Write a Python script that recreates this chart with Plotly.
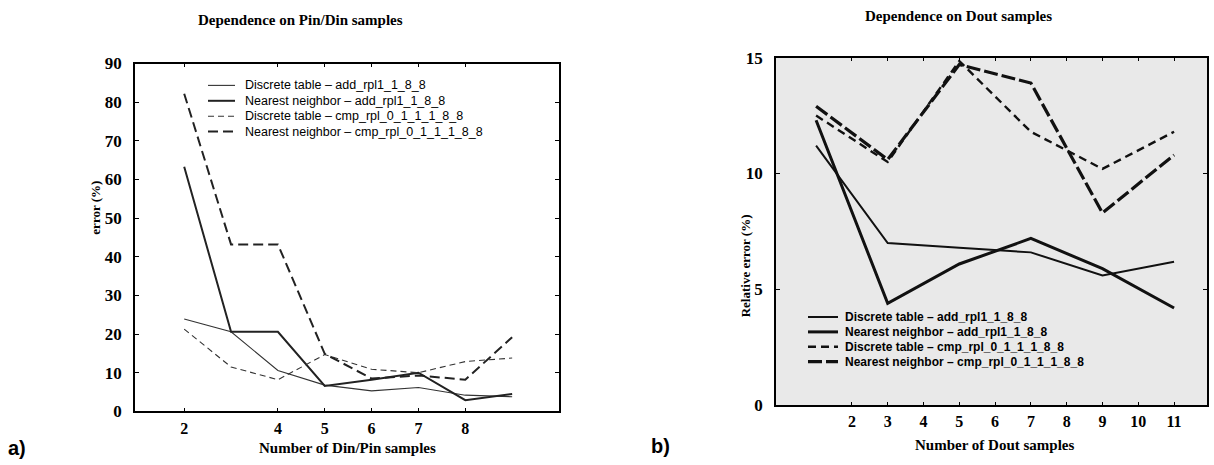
import plotly.graph_objects as go

# ---------------- data ----------------
# Panel a) Dependence on Pin/Din samples
din_x = [2, 3, 4, 5, 6, 7, 8, 9]
din_dt_add = [23.9, 20.6, 10.6, 6.8, 5.3, 6.2, 4.2, 3.8]
din_nn_add = [63.3, 20.6, 20.6, 6.6, 8.2, 10.0, 2.9, 4.5]
din_dt_cmp = [21.3, 11.5, 8.2, 14.7, 10.9, 10.0, 12.9, 13.8]
din_nn_cmp = [82.2, 43.2, 43.2, 14.9, 8.5, 9.3, 8.2, 19.2]
din_tickvals = [2, 4, 5, 6, 7, 8]
din_yticks = [0, 10, 20, 30, 40, 50, 60, 70, 80, 90]

# Panel b) Dependence on Dout samples
dout_x = [1, 3, 5, 7, 9, 11]
dout_dt_add = [11.2, 7.0, 6.8, 6.6, 5.6, 6.2]
dout_nn_add = [12.3, 4.4, 6.1, 7.2, 5.9, 4.2]
dout_dt_cmp = [12.5, 10.5, 14.85, 11.8, 10.2, 11.8]
dout_nn_cmp = [12.9, 10.6, 14.7, 13.9, 8.3, 10.8]
dout_tickvals = [2, 3, 4, 5, 6, 7, 8, 9, 10, 11]
dout_yticks = [0, 5, 10, 15]

names = [
    "Discrete table – add_rpl1_1_8_8",
    "Nearest neighbor – add_rpl1_1_8_8",
    "Discrete table – cmp_rpl_0_1_1_1_8_8",
    "Nearest neighbor – cmp_rpl_0_1_1_1_8_8",
]

W, H = 1214, 465
serif = "Liberation Serif"
sans = "Liberation Sans"

# vertical layout helper (page is shown slightly squeezed vertically)
def Y(y):
    return 232.5 + (y - 232.5) / 0.965

def py(y):
    return (H - Y(y)) / H

fig = go.Figure()

left_styles = [
    dict(color="#333333", width=1.1, dash="solid"),
    dict(color="#222222", width=2.0, dash="solid"),
    dict(color="#333333", width=1.1, dash="6px,4px"),
    dict(color="#222222", width=2.0, dash="10px,5px"),
]
for nm, ys, st in zip(names, [din_dt_add, din_nn_add, din_dt_cmp, din_nn_cmp], left_styles):
    fig.add_trace(go.Scatter(x=din_x, y=ys, mode="lines", name=nm, line=st,
                             xaxis="x", yaxis="y", showlegend=False))

right_styles = [
    dict(color="#111111", width=2.0, dash="solid"),
    dict(color="#111111", width=3.0, dash="solid"),
    dict(color="#111111", width=2.4, dash="8px,5px"),
    dict(color="#111111", width=3.2, dash="14px,4px"),
]
for nm, ys, st in zip(names, [dout_dt_add, dout_nn_add, dout_dt_cmp, dout_nn_cmp], right_styles):
    fig.add_trace(go.Scatter(x=dout_x, y=ys, mode="lines", name=nm, line=st,
                             xaxis="x2", yaxis="y2", showlegend=False))

def axis_style(size):
    return dict(showline=True, linecolor="black", linewidth=1.5, mirror="ticks",
                ticks="inside", ticklen=4, tickcolor="black", showgrid=False,
                zeroline=False,
                tickfont=dict(family=serif, size=size, color="black", weight="bold"))

L0, L1 = 135, 559
LT, LB = 63, 413
R0, R1 = 776, 1207
RT, RB = 57, 407

fig.update_layout(
    width=W, height=H,
    margin=dict(l=0, r=0, t=0, b=0),
    paper_bgcolor="white",
    plot_bgcolor="white",
    showlegend=False,
    xaxis=dict(domain=[L0 / W, L1 / W], range=[0.95, 10.0], tickvals=din_tickvals,
               anchor="y", ticklabelstandoff=2, **axis_style(16)),
    yaxis=dict(domain=[py(LB), py(LT)], range=[0, 90], tickvals=din_yticks,
               anchor="x", ticklabelstandoff=8, **axis_style(17)),
    xaxis2=dict(domain=[R0 / W, R1 / W], range=[-0.12, 11.92], tickvals=dout_tickvals,
                anchor="y2", ticklabelstandoff=1, **axis_style(16)),
    yaxis2=dict(domain=[py(RB), py(RT)], range=[0, 15], tickvals=dout_yticks,
                anchor="x2", ticklabelstandoff=8, **axis_style(17)),
)

shapes = [dict(type="rect", xref="x2 domain", yref="y2 domain",
               x0=0, x1=1, y0=0, y1=1, fillcolor="#e9e9e9",
               line=dict(width=0), layer="below")]
ann = []

# legend keys (panel a: top-left inside; panel b: lower-left inside)
def add_legend(x_line0, x_line1, x_text, rows_y, styles, bold, size):
    for nm, st, ry in zip(names, styles, rows_y):
        shapes.append(dict(type="line", xref="paper", yref="paper",
                           x0=x_line0 / W, x1=x_line1 / W, y0=py(ry), y1=py(ry),
                           line=dict(color=st["color"], width=st["width"], dash=st["dash"])))
        ann.append(dict(text=nm, x=x_text / W, y=py(ry), xref="paper", yref="paper",
                        xanchor="left", yanchor="middle", showarrow=False,
                        font=dict(family=sans, size=size, color="black",
                                  weight="bold" if bold else "normal")))

add_legend(208, 235, 243, [85, 100.5, 116, 131.5], left_styles, False, 12.5)
add_legend(808, 838, 843, [318, 333, 348, 363], right_styles, True, 12)

def label(text, x, y, size, family=serif, angle=0):
    ann.append(dict(text=text, x=x / W, y=py(y), xref="paper", yref="paper",
                    xanchor="center", yanchor="middle", showarrow=False, textangle=angle,
                    font=dict(family=family, size=size, color="black", weight="bold")))

label("Dependence on Pin/Din samples", 300, 19, 15)
label("Dependence on Dout samples", 958, 15, 15)
label("Number of Din/Pin samples", 347, 450, 15)
label("Number of Dout samples", 994, 447, 15)
label("error (%)", 96, 208, 13, angle=-90)
label("Relative error (%)", 745, 267, 13, angle=-90)
label("a)", 17, 450, 20, family=sans)
label("b)", 660, 448, 20, family=sans)

fig.update_layout(shapes=shapes, annotations=ann)

fig.write_html("out.html")
